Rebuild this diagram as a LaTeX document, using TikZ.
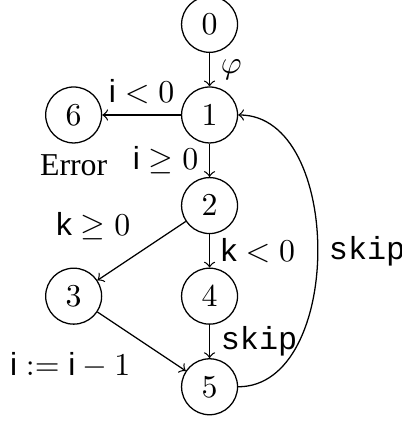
\documentclass[tikz,border=0pt]{standalone}
\usepackage[no-math]{fontspec}
\setmainfont{Liberation Serif}
\setsansfont{Liberation Sans}
\setmonofont{Liberation Mono}
\usepackage{amsmath}
\usepackage{amssymb}
\usetikzlibrary{arrows,shapes}
\tikzset{state/.style={circle, draw, inner sep=.3333em}}

\begin{document}
\begin{tikzpicture}[scale=1]
            %\draw[help lines] (-2,-3) grid (2,1);
            \useasboundingbox (-2.313,1.269) rectangle (2.124,-3.400);
            \foreach \n/\x/\y in {0/0/1, 1/0/0, 6/-1.5/0, 2/0/-1, 3/-1.5/-2, 4/0/-2, 5/0/-3} {
                \node[state] (s\n) at (\x,\y) {$\n$};
            }
            \node[below] (err) at (s6.south) {Error};
            \draw[->] (s0) -- node[right] {$\varphi$} (s1);
            \draw[->] (s1) -- node[above] {$\textsf{i} < 0$} (s6);
            \draw[->] (s1) -- node[left] {$\textsf{i} \geq 0$} (s2);
            \draw[->] (s2) -- node[above left] {$\textsf{k} \geq 0$} (s3);
            \draw[->] (s2) -- node[right] {$\textsf{k} < 0$} (s4);
            \draw[->] (s3) -- node[below left] {$\textsf{i} := \textsf{i} - 1$} (s5);
            \draw[->] (s4) -- node[right] {\texttt{skip}} (s5);
            \draw[->] (s5) to[out=0, in=0] node[right] {\texttt{skip}} (s1);
    \end{tikzpicture}
\end{document}
